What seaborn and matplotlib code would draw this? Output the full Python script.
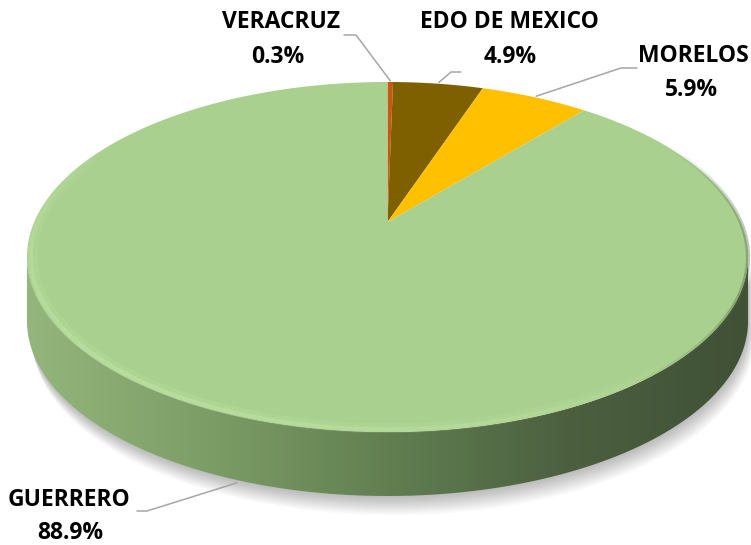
import numpy as np
import matplotlib
matplotlib.use("Agg")
import matplotlib.pyplot as plt
import seaborn as sns
from matplotlib.colors import LinearSegmentedColormap, to_rgba
from matplotlib.collections import LineCollection
from matplotlib.patches import Polygon

# data
states = ["VERACRUZ", "EDO DE MEXICO", "MORELOS", "GUERRERO"]
shares = [0.3, 4.9, 5.9, 88.9]
pct_labels = ["0.3%", "4.9%", "5.9%", "88.9%"]
colors = ["#c55a11", "#7f6000", "#ffc000", "#a9d08e"]

sns.set_style("white")
plt.rcParams["font.family"] = ["Open Sans", "DejaVu Sans"]

fig = plt.figure(figsize=(7.51, 5.45), dpi=100)
ax = fig.add_axes([0, 0, 1, 1])

# perspective view of a flat disk, fitted into the pixel box of the top face
K = 0.2
X0, X1, Y0, Y1 = 27, 748, 82, 432
T = 64  # thickness of the side


def proj_raw(u, v):
    w = 1 + K * v
    return u / w, v / w


th_all = np.linspace(0, 2 * np.pi, 1441)
ru, rv = proj_raw(np.sin(th_all), np.cos(th_all))


def to_px(theta, r=1.0):
    sx, sy = proj_raw(r * np.sin(theta), r * np.cos(theta))
    px = X0 + (sx - ru.min()) / (ru.max() - ru.min()) * (X1 - X0)
    py = Y0 + (rv.max() - sy) / (rv.max() - rv.min()) * (Y1 - Y0)
    return px, py


def faded_arc(t0, t1, r, color, alpha, lw, power=1.0):
    t = np.linspace(t0, t1, 200)
    x, y = to_px(t, r)
    segs = np.stack([np.column_stack([x[:-1], y[:-1]]),
                     np.column_stack([x[1:], y[1:]])], axis=1)
    f = np.sin((t[:-1] - t0) / (t1 - t0) * np.pi) ** power
    rgba = np.array([to_rgba(color, alpha * v) for v in f])
    ax.add_collection(LineCollection(segs, colors=rgba, linewidths=lw,
                                     capstyle="butt", zorder=4))


ex, ey = to_px(th_all)
i_r, i_l = int(np.argmax(ex)), int(np.argmin(ex))
fx, fy = ex[i_r:i_l + 1], ey[i_r:i_l + 1]

# soft shadow
for k in range(14):
    off = 1 + k * 1.4
    sh = np.column_stack([np.r_[fx, fx[::-1]] + off * 0.3,
                          np.r_[fy, fy[::-1] + T + off]])
    ax.add_patch(Polygon(sh, closed=True, fc="#000000", ec="none",
                         alpha=0.02, zorder=1))

# side wall with horizontal gradient
side = Polygon(np.column_stack([np.r_[fx, fx[::-1]], np.r_[fy, fy[::-1] + T]]),
               closed=True, fc="none", ec="none", zorder=2)
ax.add_patch(side)
side_cmap = LinearSegmentedColormap.from_list(
    "side", [(0, "#94b67c"), (0.25, "#7d9d66"), (0.5, "#617f51"),
             (0.75, "#4c6040"), (1, "#405136")])
grad = np.linspace(0, 1, 256)[None, :]
im = ax.imshow(grad, cmap=side_cmap, extent=[X0, X1, Y1 + T + 5, Y0 + 150],
               aspect="auto", zorder=2)
im.set_clip_path(side)

# top face slices, clockwise from 12 o'clock
cx, cy = to_px(0.0, 0.0)
bounds = np.r_[0, np.cumsum(shares)] / 100 * 2 * np.pi
mids = []
for i in range(len(shares)):
    a = np.linspace(bounds[i], bounds[i + 1], max(3, int(shares[i] * 8)))
    px, py = to_px(a)
    pts = np.column_stack([np.r_[cx, px], np.r_[cy, py]])
    ax.add_patch(Polygon(pts, closed=True, fc=colors[i], ec="none", zorder=3))
    mids.append((bounds[i] + bounds[i + 1]) / 2)

# bevel: soft light rim on the left/front, dark blur on the right
faded_arc(np.pi * 0.75, np.pi * 1.65, 0.985, "#c4e8aa", 0.22, 7, 0.6)
faded_arc(np.pi * 0.75, np.pi * 1.65, 0.99, "#c8ecae", 0.35, 3, 0.6)
faded_arc(np.pi * 0.35, np.pi * 0.8, 1.0, "#4f6643", 0.4, 3)

# labels and leader lines
lead = "#a6a6a6"
txt = dict(fontsize=16.5, fontweight="bold", color="#000000",
           ha="center", va="center", zorder=6)
label_pos = [(281, 22, 278, 57), (509, 22, 510, 57),
             (693, 56, 692, 90), (69, 500, 70, 533)]
elbows = [[(344, 35), (356, 35)], [(461, 72), (451, 72)],
          [(637, 68), (621, 68)], [(137, 511), (147, 511)]]
for i, name in enumerate(states):
    lx, ly, px_, py_ = label_pos[i]
    ax.text(lx, ly, name, **txt)
    ax.text(px_, py_, pct_labels[i], **txt)
    mx, my = to_px(mids[i], 1.01)
    if i == 3:
        my = my + T
    xs = [p[0] for p in elbows[i]] + [mx]
    ys = [p[1] for p in elbows[i]] + [my]
    ax.plot(xs, ys, color=lead, lw=1.1, zorder=5)

ax.set_xlim(0, 751)
ax.set_ylim(545, 0)
ax.axis("off")

fig.savefig("out.png", dpi=100)
